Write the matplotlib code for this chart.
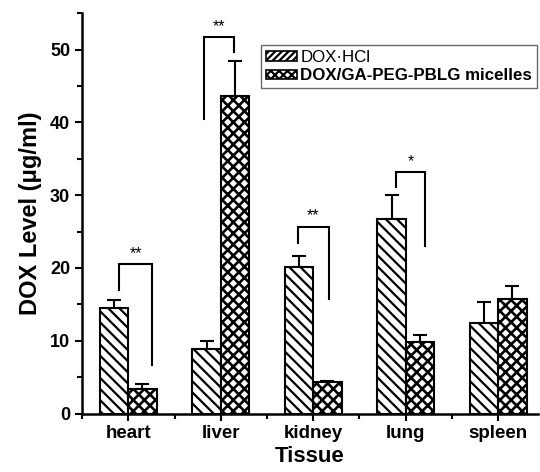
import numpy as np
import matplotlib
matplotlib.use("Agg")
import matplotlib.pyplot as plt
from matplotlib.patches import Patch
from matplotlib.ticker import MultipleLocator

tissues = ["heart", "liver", "kidney", "lung", "spleen"]
dox_hcl = [14.5, 8.9, 20.2, 26.8, 12.4]
dox_hcl_err = [1.05, 1.05, 1.5, 3.2, 2.9]
micelles = [3.4, 43.6, 4.3, 9.8, 15.8]
micelles_err = [0.6, 4.8, 0.15, 1.0, 1.7]

# significance brackets: tissue index, top, left leg end, right leg end, label
sig_idx = [0, 1, 2, 3]
sig_top = [20.6, 51.7, 25.7, 33.2]
sig_left_end = [17.0, 40.5, 23.5, 31.1]
sig_right_end = [6.7, 49.7, 15.7, 23.0]
sig_left_dx = [-0.10, -0.185, -0.17, -0.10]
sig_right_dx = [0.26, 0.14, 0.17, 0.21]
sig_labels = ["**", "**", "**", "*"]

plt.rcParams.update({
    "font.family": ["Liberation Sans", "DejaVu Sans"],
    "hatch.linewidth": 1.6,
    "axes.linewidth": 1.8,
})

fig = plt.figure(figsize=(5.4, 4.72), dpi=100)
ax = fig.add_axes([0.1519, 0.1239, 0.8444, 0.8479])

x = np.arange(1, len(tissues) + 1)
w = 0.307

b1 = ax.bar(x - w / 2, dox_hcl, w, color="white", edgecolor="black",
            linewidth=1.5, hatch="\\\\\\", zorder=2)
b2 = ax.bar(x + w / 2, micelles, w, color="white", edgecolor="black",
            linewidth=1.5, hatch="xxx", zorder=2)
for p in b2:
    if hasattr(p, "set_hatch_linewidth"):
        p.set_hatch_linewidth(1.9)

zeros = np.zeros(len(x))
ax.errorbar(x - w / 2, dox_hcl, yerr=[zeros, dox_hcl_err], fmt="none",
            ecolor="black", elinewidth=1.5, capsize=5, capthick=1.5, zorder=1)
ax.errorbar(x + w / 2, micelles, yerr=[zeros, micelles_err], fmt="none",
            ecolor="black", elinewidth=1.5, capsize=5, capthick=1.5, zorder=1)

for i, top, le, re, ldx, rdx, lab in zip(sig_idx, sig_top, sig_left_end,
                                         sig_right_end, sig_left_dx,
                                         sig_right_dx, sig_labels):
    xl = x[i] + ldx
    xr = x[i] + rdx
    ax.plot([xl, xl, xr, xr], [le, top, top, re], color="black",
            linewidth=1.5, solid_joinstyle="miter", zorder=3)
    ax.text((xl + xr) / 2, top + 0.4, lab, ha="center", va="bottom",
            fontsize=11.5)

ax.set_xlim(0.5, 5.43)
ax.set_ylim(0, 55)
ax.set_xticks(x)
ax.set_xticklabels(tissues)
ax.xaxis.set_minor_locator(MultipleLocator(1, offset=0.5))
ax.yaxis.set_major_locator(MultipleLocator(10))
ax.yaxis.set_minor_locator(MultipleLocator(5))

ax.spines["top"].set_visible(False)
ax.spines["right"].set_visible(False)
ax.tick_params(axis="both", which="major", direction="out", length=5,
               width=1.5, pad=3.5)
ax.tick_params(axis="both", which="minor", direction="out", length=3.5,
               width=1.5)
ax.tick_params(axis="x", labelsize=13.5)
ax.tick_params(axis="y", labelsize=13)
for lbl in ax.get_xticklabels() + ax.get_yticklabels():
    lbl.set_fontweight("bold")

ax.set_xlabel("Tissue", fontsize=16, fontweight="bold", labelpad=3)
ax.set_ylabel("DOX Level (\u03bcg/ml)", fontsize=17, fontweight="bold",
              labelpad=6)

handles = [
    Patch(facecolor="white", edgecolor="black", hatch="/////", linewidth=1.2),
    Patch(facecolor="white", edgecolor="black", hatch="xxxx", linewidth=1.2),
]
leg = ax.legend(handles, ["DOX\u00b7HCl", "DOX/GA-PEG-PBLG micelles"],
                loc="upper right", bbox_to_anchor=(0.998, 0.921),
                frameon=True, fancybox=False, edgecolor="#444444",
                fontsize=12.2, handlelength=1.8, handleheight=0.5,
                handletextpad=0.2, borderpad=0.3, labelspacing=0.2,
                borderaxespad=0.0)
leg.get_frame().set_linewidth(1.0)
leg.get_texts()[1].set_fontweight("bold")

fig.savefig("out.png", dpi=100)
